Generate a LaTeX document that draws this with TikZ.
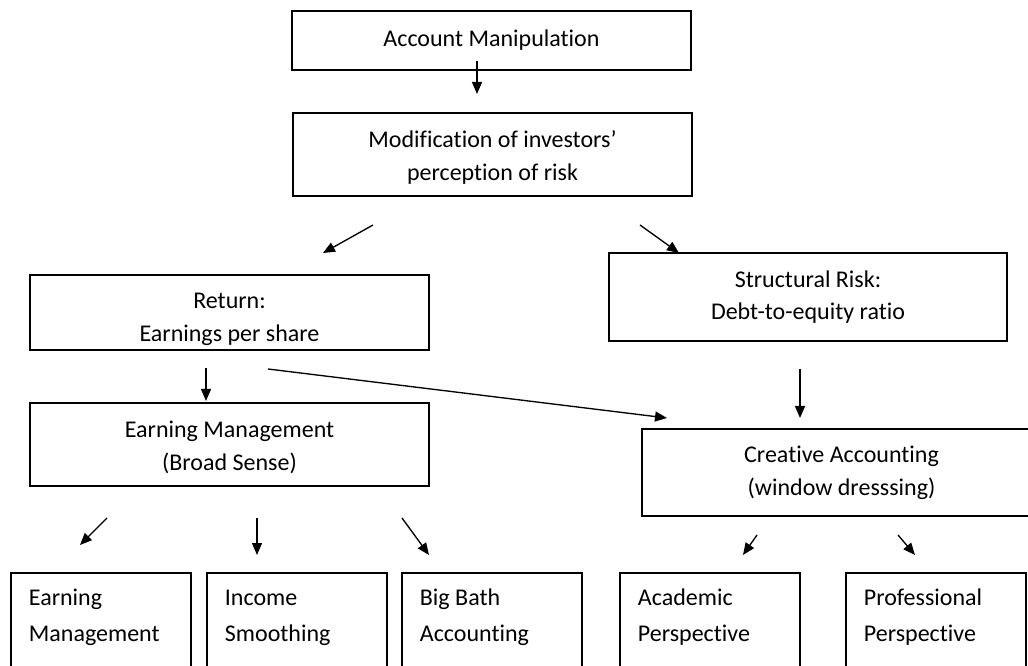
\documentclass[tikz,border=0pt]{standalone}
\usepackage{fontspec}
\setmainfont{Carlito}[Ligatures=NoCommon]
\usetikzlibrary{arrows.meta}

\tikzset{
  box/.style={draw, line width=1.4pt, minimum width=299pt, align=center, inner sep=0pt,
    font=\fontsize{18pt}{24.5pt}\selectfont},
  leaf/.style={draw, line width=1.4pt, anchor=north west, text width=108pt, align=flush left,
    inner xsep=13.5pt, inner ysep=12pt, text depth=60pt,
    font=\fontsize{18pt}{27pt}\selectfont},
  arr/.style={line width=1pt, -{Triangle[length=9pt,width=7.5pt]}}
}

\begin{document}
\begin{tikzpicture}[x=0.75pt,y=-0.75pt]
\clip (0,0) rectangle (1028,666);
\fill[white] (0,0) rectangle (1028,666);

% top of the chain
\node[box, minimum height=44pt] (acct) at (491.5,40.5) {Account Manipulation};
\node[box, minimum height=62pt] (modif) at (492.5,154.5) {\strut Modification of investors'\\perception of risk};

% second level
\node[box, minimum height=56pt] (ret) at (229.5,312.5) {\rule{0pt}{22pt}Return:\\Earnings per share};
\node[box, minimum height=66pt] (struct) at (808,297) {Structural Risk:\\Debt-to-equity ratio};

% third level
\node[box, minimum height=62pt] (earnmgmt) at (229.5,444.5) {\strut Earning Management\\(Broad Sense)};
\node[box, minimum height=65pt] (creative) at (841.5,472.5) {Creative Accounting\\(window dresssing)};

% leaves
\node[leaf] (em) at (10,572) {Earning\\Management};
\node[leaf] (smooth) at (206,572) {\rule{0pt}{12.6pt}Income\\Smoothing};
\node[leaf] (bigbath) at (401,572) {Big Bath\\Accounting};
\node[leaf] (academic) at (619,572) {Academic\\Perspective};
\node[leaf] (professional) at (845,572) {Professional\\Perspective};

% arrow ends
\coordinate (a1s) at (477,61);  \coordinate (a1e) at (477,94);
\coordinate (a2s) at (373,225); \coordinate (a2e) at (323,253);
\coordinate (a3s) at (640,225); \coordinate (a3e) at (679,253);
\coordinate (a4s) at (206,368); \coordinate (a4e) at (206,401);
\coordinate (a5s) at (268,369); \coordinate (a5e) at (667,418);
\coordinate (a6s) at (800,369); \coordinate (a6e) at (800,418);
\coordinate (a7s) at (107,518); \coordinate (a7e) at (80,545);
\coordinate (a8s) at (257,518); \coordinate (a8e) at (257,555);
\coordinate (a9s) at (402,518); \coordinate (a9e) at (429,555);
\coordinate (a10s) at (757,535); \coordinate (a10e) at (743,555);
\coordinate (a11s) at (898,535); \coordinate (a11e) at (915,555);

\draw[arr] (a1s) -- (a1e);
\draw[arr] (a2s) -- (a2e);
\draw[arr] (a3s) -- (a3e);
\draw[arr] (a4s) -- (a4e);
\draw[arr] (a5s) -- (a5e);
\draw[arr] (a6s) -- (a6e);
\draw[arr] (a7s) -- (a7e);
\draw[arr] (a8s) -- (a8e);
\draw[arr] (a9s) -- (a9e);
\draw[arr] (a10s) -- (a10e);
\draw[arr] (a11s) -- (a11e);
\end{tikzpicture}
\end{document}
